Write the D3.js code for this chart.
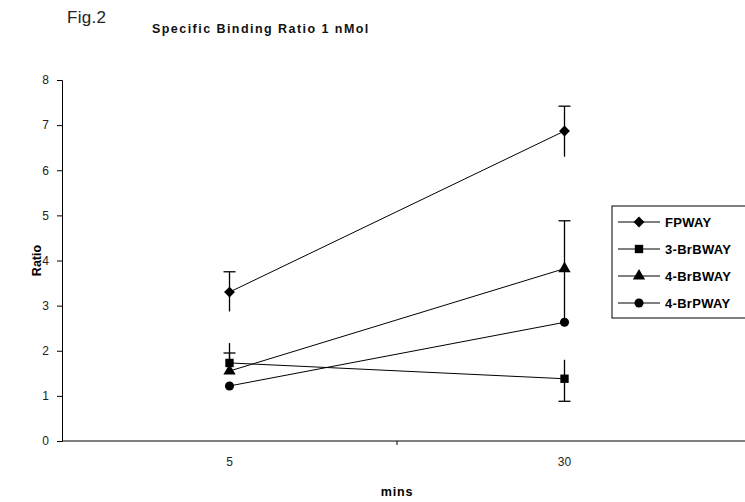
<!DOCTYPE html>
<html>
<head>
<meta charset="utf-8">
<script src="https://cdn.jsdelivr.net/npm/d3@7"></script>
<style>
  body { margin: 0; background: #fff; }
  text { font-family: "Liberation Sans", Arial, sans-serif; }
</style>
</head>
<body>
<div id="chart"></div>
<script>
// Data
const times = ["5", "30"];
const seriesNames = ["FPWAY", "3-BrBWAY", "4-BrBWAY", "4-BrPWAY"];
const fpway = [3.3, 6.87];
const br3bway = [1.73, 1.38];
const br4bway = [1.55, 3.82];
const br4pway = [1.22, 2.63];
// error bar extents (plus / minus), 0 = not drawn
const errUp = [[0.45, 0.55], [0.22, 0.42], [0.62, 1.06], [0, 0]];
const errDown = [[0.43, 0.57], [0, 0.5], [0, 1.15], [0, 0]];
// which end carries a cap: "up", "down"
const capEnd = [["up", "up"], ["up", "down"], ["none", "up"], ["none", "none"]];
const yTicks = [0, 1, 2, 3, 4, 5, 6, 7, 8];

function createChart() {
    const W = 745, H = 502;
    const plot = { left: 62, right: 732, top: 80, bottom: 441 };

    const svg = d3.select("#chart")
        .append("svg")
        .attr("width", W)
        .attr("height", H);

    const x = d3.scaleBand().domain(times).range([plot.left, plot.right]).padding(0);
    const y = d3.scaleLinear().domain([0, 8]).range([plot.bottom, plot.top]);
    const cx = d => x(d) + x.bandwidth() / 2;

    // Titles
    svg.append("text")
        .attr("x", 67).attr("y", 23)
        .attr("font-size", "17px")
        .attr("letter-spacing", "0.3px")
        .attr("fill", "#222")
        .text("Fig.2");

    svg.append("text")
        .attr("x", 152).attr("y", 33)
        .attr("font-size", "12.5px")
        .attr("font-weight", "bold")
        .attr("letter-spacing", "1.45px")
        .attr("fill", "#111")
        .text("Specific Binding Ratio 1 nMol");

    // Y axis
    const yAxis = d3.axisLeft(y).tickValues(yTicks).tickSize(5).tickPadding(8);
    const gy = svg.append("g")
        .attr("transform", `translate(${plot.left},0)`)
        .call(yAxis);
    gy.select(".domain").attr("stroke", "#000");
    gy.selectAll(".tick line").attr("stroke", "#000");
    gy.selectAll(".tick text")
        .attr("font-size", "12px")
        .attr("font-family", "Liberation Sans, Arial, sans-serif")
        .attr("fill", "#222");

    // X axis: labels centered in categories, tick marks between them
    const xAxis = d3.axisBottom(x).tickSize(0).tickPadding(16);
    const gx = svg.append("g")
        .attr("transform", `translate(0,${plot.bottom})`)
        .call(xAxis);
    gx.select(".domain").attr("stroke", "#000").attr("d", `M${plot.left},0H${W}`);
    gx.selectAll(".tick text")
        .attr("font-size", "12px")
        .attr("font-family", "Liberation Sans, Arial, sans-serif")
        .attr("fill", "#222");
    gx.selectAll(".bound")
        .data(times.slice(1))
        .enter()
        .append("line")
        .attr("x1", d => x(d)).attr("x2", d => x(d))
        .attr("y1", 0).attr("y2", 4)
        .attr("stroke", "#000");

    // Axis titles
    svg.append("text")
        .attr("transform", `translate(41,${(plot.top + plot.bottom) / 2}) rotate(-90)`)
        .attr("text-anchor", "middle")
        .attr("font-size", "12.5px")
        .attr("font-weight", "bold")
        .text("Ratio");

    svg.append("text")
        .attr("x", (plot.left + plot.right) / 2)
        .attr("y", 496)
        .attr("text-anchor", "middle")
        .attr("font-size", "12.5px")
        .attr("font-weight", "bold")
        .attr("letter-spacing", "0.8px")
        .text("mins");

    const allSeries = [fpway, br3bway, br4bway, br4pway];
    const symbols = [
        d3.symbol().type(d3.symbolDiamond2).size(75),
        d3.symbol().type(d3.symbolSquare).size(70),
        d3.symbol().type(d3.symbolTriangle).size(65),
        d3.symbol().type(d3.symbolCircle).size(65)
    ];

    const line = d3.line().x((d, i) => cx(times[i])).y(d => y(d));

    allSeries.forEach((vals, s) => {
        const g = svg.append("g");
        // error bars
        vals.forEach((v, i) => {
            const px = cx(times[i]);
            const up = errUp[s][i], dn = errDown[s][i];
            if (up > 0) {
                g.append("line")
                    .attr("x1", px).attr("x2", px)
                    .attr("y1", y(v)).attr("y2", y(v + up))
                    .attr("stroke", "#000").attr("stroke-width", 1.3);
            }
            if (dn > 0) {
                g.append("line")
                    .attr("x1", px).attr("x2", px)
                    .attr("y1", y(v)).attr("y2", y(v - dn))
                    .attr("stroke", "#000").attr("stroke-width", 1.3);
            }
            const cap = capEnd[s][i];
            if (cap !== "none") {
                const cy = cap === "up" ? y(v + up) : y(v - dn);
                g.append("line")
                    .attr("x1", px - 6).attr("x2", px + 6)
                    .attr("y1", cy).attr("y2", cy)
                    .attr("stroke", "#000").attr("stroke-width", 1.3);
            }
        });
        g.append("path")
            .datum(vals)
            .attr("d", line)
            .attr("fill", "none")
            .attr("stroke", "#000")
            .attr("stroke-width", 1);
        g.selectAll("path.mk")
            .data(vals)
            .enter()
            .append("path")
            .attr("class", "mk")
            .attr("d", symbols[s])
            .attr("transform", (d, i) => `translate(${cx(times[i])},${y(d)})`)
            .attr("fill", "#000");
    });

    // Legend
    const leg = svg.append("g").attr("transform", "translate(612,206)");
    leg.append("rect")
        .attr("x", 0).attr("y", 0)
        .attr("width", 160).attr("height", 112)
        .attr("fill", "#fff")
        .attr("stroke", "#000");
    const rows = leg.selectAll(".row")
        .data(seriesNames)
        .enter()
        .append("g")
        .attr("transform", (d, i) => `translate(0,${16 + i * 27})`);
    rows.append("line")
        .attr("x1", 6).attr("x2", 48)
        .attr("y1", 0).attr("y2", 0)
        .attr("stroke", "#000");
    rows.append("path")
        .attr("d", (d, i) => symbols[i]())
        .attr("transform", "translate(27,0)")
        .attr("fill", "#000");
    rows.append("text")
        .attr("x", 53).attr("y", 5)
        .attr("font-size", "13px")
        .attr("font-weight", "bold")
        .attr("letter-spacing", "0.3px")
        .text(d => d);
}

createChart();
</script>
</body>
</html>
